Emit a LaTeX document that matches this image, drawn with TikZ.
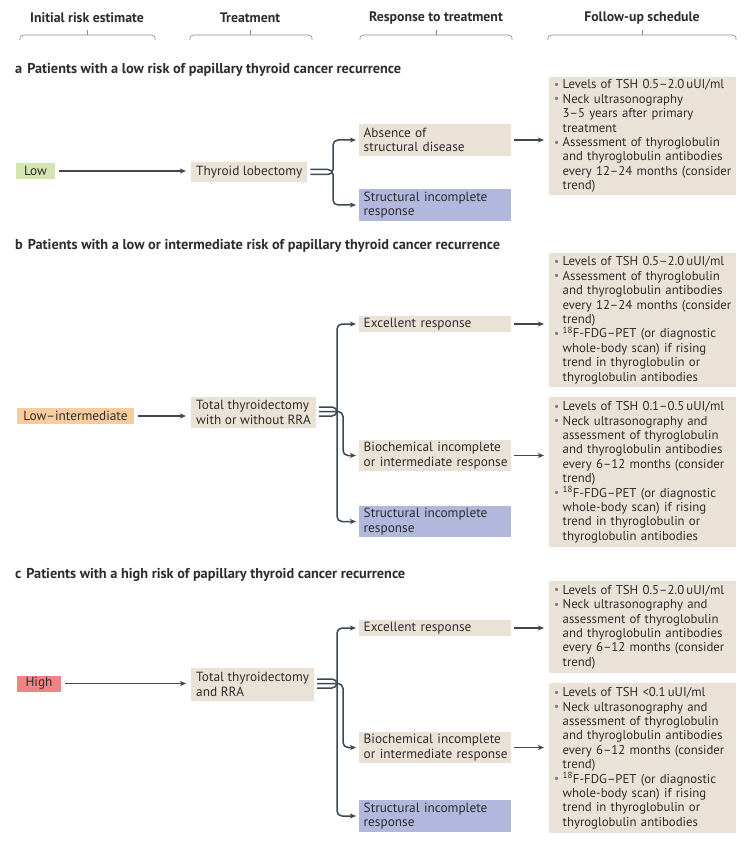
\documentclass[tikz,border=0pt]{standalone}
\usepackage{fontspec}
\setmainfont{PT Sans}
\usetikzlibrary{arrows.meta}
\definecolor{beige}{RGB}{234,226,214}
\definecolor{lgreen}{RGB}{212,229,178}
\definecolor{lorange}{RGB}{249,204,158}
\definecolor{lred}{RGB}{240,132,132}
\definecolor{lpurple}{RGB}{178,183,221}
\definecolor{txt}{RGB}{45,45,45}
\definecolor{arr}{RGB}{60,72,82}
\definecolor{bulc}{RGB}{125,125,125}
\definecolor{bracec}{RGB}{140,140,140}
\newcommand\bul{\makebox[8.5pt][l]{\textcolor{bulc}{\raisebox{0.4pt}{\scalebox{0.9}{•}}}}}
\newcommand\bl[1]{\mbox{\bul#1}}
\newcommand\cl[1]{\mbox{\hspace*{8.5pt}#1}}
\begin{document}
\begin{tikzpicture}[x=1pt,y=-1pt,
  every node/.style={text=txt, font=\fontsize{13.3}{14.3}\selectfont},
  hdr/.style={font=\fontsize{13.8}{15}\selectfont\bfseries},
  ttl/.style={font=\fontsize{14.3}{15}\selectfont\bfseries, anchor=west, inner sep=0pt},
  fupfont/.style={font=\fontsize{12.8}{14.4}\selectfont},
  brace/.style={draw=bracec, line width=0.6pt},
  risk/.style={minimum height=16pt, inner xsep=5pt, inner ysep=0pt},
  treat/.style={fill=beige, anchor=west, inner xsep=5pt, inner ysep=2pt, align=left},
  resp/.style={anchor=west, minimum width=152pt, text width=143pt, inner xsep=4.5pt, inner ysep=0pt, align=left},
  fup/.style={fill=beige, fupfont, anchor=north west, text width=177pt, inner xsep=5pt, inner ysep=2pt, align=left},
  conn/.style={draw=arr, line width=1.5pt, -{Stealth[length=6pt,width=5pt,inset=1.5pt]}},
  branch/.style={conn, rounded corners=5pt, shorten >=3pt},
]
\useasboundingbox (0,0) rectangle (747,842);

% header
\node[hdr] (h1) at (87,18) {Initial risk estimate};
\node[hdr] (h2) at (250,18) {Treatment};
\node[hdr] (h3) at (436,18) {Response to treatment};
\node[hdr] (h4) at (642,18) {Follow-up schedule};
\foreach \a/\b/\m in {20/155/87, 190/312/250, 360/512/436, 548/736/642}{
  \draw[brace] (\a,40) .. controls (\a,36) .. (\a+4,35) -- (\b-4,35) .. controls (\b,36) .. (\b,40);
  \draw[brace] (\m,35) -- (\m,30);
}

% ---------- section a
\node[ttl] (ta0) at (15,70) {a\hspace{5pt}Patients with a low risk of papillary thyroid cancer recurrence};
\node[risk, fill=lgreen, minimum width=39pt] (low) at (35.5,171) {Low};
\node[treat, minimum width=113pt, minimum height=20pt] (ta) at (191,172) {Thyroid lobectomy};
\node[resp, fill=beige, minimum height=32pt] (ra1) at (359,140) {\mbox{Absence of}\\\mbox{structural disease}};
\node[resp, fill=lpurple, minimum height=32pt] (ra2) at (359,205) {\mbox{Structural incomplete}\\\mbox{response}};
\node[fup, minimum width=187pt, minimum height=118pt] (fa) at (549,77) {%
\bl{Levels of TSH 0.5–2.0\,uUI/ml}\\
\bl{Neck ultrasonography}\\
\cl{3–5 years after primary}\\
\cl{treatment}\\
\bl{Assessment of thyroglobulin}\\
\cl{and thyroglobulin antibodies}\\
\cl{every 12–24 months (consider}\\
\cl{trend)}};
\draw[conn, shorten <=4pt, shorten >=5pt] (low.east) -- (low.east -| ta.west);
\draw[branch] ([xshift=3pt,yshift=-2.5pt]ta.east) -| ([xshift=-26pt]ra1.west) -- (ra1.west);
\draw[branch] ([xshift=3pt,yshift=2.5pt]ta.east) -| ([xshift=-26pt]ra2.west) -- (ra2.west);
\draw[conn, shorten <=3pt, shorten >=5pt] (ra1.east) -- (ra1.east -| fa.west);

% ---------- section b
\node[ttl] (tb0) at (15,246) {b\hspace{5pt}Patients with a low or intermediate risk of papillary thyroid cancer recurrence};
\node[risk, fill=lorange, minimum width=117pt] (lowint) at (75.5,416) {Low–intermediate};
\node[treat, minimum width=122pt, minimum height=31pt] (tb) at (191,412.5) {Total thyroidectomy\\with or without RRA};
\node[resp, fill=beige, minimum height=16pt] (rb1) at (359,324) {\mbox{Excellent response}};
\node[resp, fill=beige, minimum height=31pt] (rb2) at (359,455.5) {\mbox{Biochemical incomplete}\\\mbox{or intermediate response}};
\node[resp, fill=lpurple, minimum height=31pt] (rb3) at (359,521.5) {\mbox{Structural incomplete}\\\mbox{response}};
\node[fup, minimum width=187pt, minimum height=134pt] (fb1) at (549,253) {%
\bl{Levels of TSH 0.5–2.0\,uUI/ml}\\
\bl{Assessment of thyroglobulin}\\
\cl{and thyroglobulin antibodies}\\
\cl{every 12–24 months (consider}\\
\cl{trend)}\\
\bl{\textsuperscript{18}F-FDG–PET (or diagnostic}\\
\cl{whole-body scan) if rising}\\
\cl{trend in thyroglobulin or}\\
\cl{thyroglobulin antibodies}};
\node[fup, minimum width=187pt, minimum height=150pt] (fb2) at (549,397) {%
\bl{Levels of TSH 0.1–0.5\,uUI/ml}\\
\bl{Neck ultrasonography and}\\
\cl{assessment of thyroglobulin}\\
\cl{and thyroglobulin antibodies}\\
\cl{every 6–12 months (consider}\\
\cl{trend)}\\
\bl{\textsuperscript{18}F-FDG–PET (or diagnostic}\\
\cl{whole-body scan) if rising}\\
\cl{trend in thyroglobulin or}\\
\cl{thyroglobulin antibodies}};
\draw[conn, shorten <=4pt, shorten >=5pt] (lowint.east) -- (lowint.east -| tb.west);
\draw[branch] ([xshift=3pt,yshift=-3.5pt]tb.east) -| ([xshift=-22pt]rb1.west) -- (rb1.west);
\draw[branch] ([xshift=3pt,yshift=1pt]tb.east) -| ([xshift=-16pt]rb2.west) -- (rb2.west);
\draw[branch] ([xshift=3pt,yshift=5.5pt]tb.east) -| ([xshift=-22pt]rb3.west) -- (rb3.west);
\draw[conn, shorten <=3pt, shorten >=5pt] (rb1.east) -- (rb1.east -| fb1.west);
\draw[conn, shorten <=3pt, shorten >=5pt] (rb2.east) -- (rb2.east -| fb2.west);

% ---------- section c
\node[ttl] (tc0) at (15,575) {c\hspace{5pt}Patients with a high risk of papillary thyroid cancer recurrence};
\node[risk, fill=lred, minimum width=44pt] (high) at (39,683.5) {High};
\node[treat, minimum width=122pt, minimum height=33pt] (tc) at (191,684.5) {Total thyroidectomy\\and RRA};
\node[resp, fill=beige, minimum height=16pt] (rc1) at (359,628) {\mbox{Excellent response}};
\node[resp, fill=beige, minimum height=31pt] (rc2) at (359,747.5) {\mbox{Biochemical incomplete}\\\mbox{or intermediate response}};
\node[resp, fill=lpurple, minimum height=32pt] (rc3) at (359,816) {\mbox{Structural incomplete}\\\mbox{response}};
\node[fup, minimum width=187pt, minimum height=92pt] (fc1) at (549,581) {%
\bl{Levels of TSH 0.5–2.0\,uUI/ml}\\
\bl{Neck ultrasonography and}\\
\cl{assessment of thyroglobulin}\\
\cl{and thyroglobulin antibodies}\\
\cl{every 6–12 months (consider}\\
\cl{trend)}};
\node[fup, minimum width=187pt, minimum height=150pt] (fc2) at (549,683) {%
\bl{Levels of TSH <0.1\,uUI/ml}\\
\bl{Neck ultrasonography and}\\
\cl{assessment of thyroglobulin}\\
\cl{and thyroglobulin antibodies}\\
\cl{every 6–12 months (consider}\\
\cl{trend)}\\
\bl{\textsuperscript{18}F-FDG–PET (or diagnostic}\\
\cl{whole-body scan) if rising}\\
\cl{trend in thyroglobulin or}\\
\cl{thyroglobulin antibodies}};
\draw[conn, shorten <=4pt, shorten >=5pt] (high.east) -- (high.east -| tc.west);
\draw[branch] ([xshift=3pt,yshift=-3.5pt]tc.east) -| ([xshift=-22pt]rc1.west) -- (rc1.west);
\draw[branch] ([xshift=3pt,yshift=1pt]tc.east) -| ([xshift=-16pt]rc2.west) -- (rc2.west);
\draw[branch] ([xshift=3pt,yshift=5.5pt]tc.east) -| ([xshift=-22pt]rc3.west) -- (rc3.west);
\draw[conn, shorten <=3pt, shorten >=5pt] (rc1.east) -- (rc1.east -| fc1.west);
\draw[conn, shorten <=3pt, shorten >=5pt] (rc2.east) -- (rc2.east -| fc2.west);
\end{tikzpicture}
\end{document}
